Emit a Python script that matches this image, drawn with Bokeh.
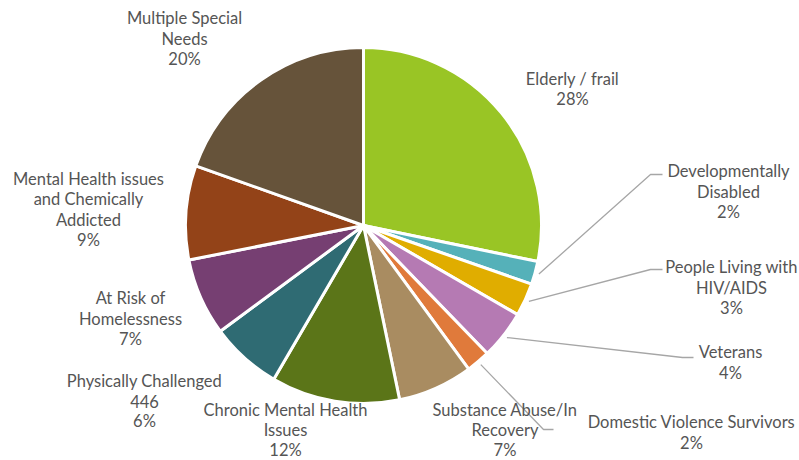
import math
from bokeh.plotting import figure
from bokeh.models import Range1d
from bokeh.core.properties import value
from bokeh.embed import file_html
from bokeh.resources import INLINE

# ---- data ----
categories = [
    "Elderly / frail",
    "Developmentally\nDisabled",
    "People Living with\nHIV/AIDS",
    "Veterans",
    "Domestic Violence Survivors",
    "Substance Abuse/In\nRecovery",
    "Chronic Mental Health\nIssues",
    "Physically Challenged",
    "At Risk of\nHomelessness",
    "Mental Health issues\nand Chemically\nAddicted",
    "Multiple Special\nNeeds",
]
counts = [1950, 145, 207, 305, 150, 470, 805, 446, 485, 590, 1350]
show_count = [False, False, False, False, False, False, False, True, False, False, False]
colors = ["#99c525", "#55b1b9", "#e0ad00", "#b57ab3", "#e07a3b", "#a98c61",
          "#5b7518", "#2f6b73", "#763f72", "#934318", "#66533a"]

# ---- layout (reference pixel coordinates) ----
W, H = 799, 460
CX, CY, R = 363, 225, 178
label_pos = [(572, 88.5), (728, 191), (731, 287), (730, 362), (691, 432),
             (504.5, 429.5), (285, 429.5), (144, 400.5), (130, 318), (88, 209), (184, 38)]
leader_elbow = {1: (650, 174, 662), 2: (650, 269, 662), 3: (682, 357, 693), 4: (543, 429, 553)}
LINE_H = 20.3


def tx(x):
    return x


def ty(y):
    return H - y


p = figure(width=W, height=H, output_backend="svg", toolbar_location=None,
           x_range=Range1d(0, W), y_range=Range1d(0, H), min_border=0,
           outline_line_color=None)
p.xaxis.visible = False
p.yaxis.visible = False
p.grid.visible = False
p.background_fill_color = "white"
p.border_fill_color = "white"

total = sum(counts)
cum = 0.0
starts, ends, mids = [], [], []
for c in counts:
    f0 = cum / total
    cum += c
    f1 = cum / total
    starts.append(math.pi / 2 - f0 * 2 * math.pi)
    ends.append(math.pi / 2 - f1 * 2 * math.pi)
    mids.append((f0 + f1) / 2)

p.wedge(x=tx(CX), y=ty(CY), radius=R, start_angle=starts, end_angle=ends,
        direction="clock", fill_color=colors, line_color="white", line_width=3)

# leader lines
for i, (ex, ey, hx) in leader_elbow.items():
    a = mids[i] * 2 * math.pi
    sx = CX + (R + 4) * math.sin(a)
    sy = CY - (R + 4) * math.cos(a)
    p.line([tx(sx), tx(ex), tx(hx)], [ty(sy), ty(ey), ty(ey)],
           line_color="#a6a6a6", line_width=1.3)

# labels
xs, ys, texts = [], [], []
for i, name in enumerate(categories):
    lines = name.split("\n")
    if show_count[i]:
        lines.append(str(counts[i]))
    lines.append("%d%%" % round(counts[i] / total * 100))
    lx, ly = label_pos[i]
    n = len(lines)
    for k, ln in enumerate(lines):
        xs.append(tx(lx))
        ys.append(ty(ly + (k - (n - 1) / 2) * LINE_H))
        texts.append(ln)

p.text(x=xs, y=ys, text=texts, text_align="center", text_baseline="middle",
       text_font=value("Lato"), text_font_size="16.5px", text_color="#555555")

open("out.html", "w").write(file_html(p, INLINE))
